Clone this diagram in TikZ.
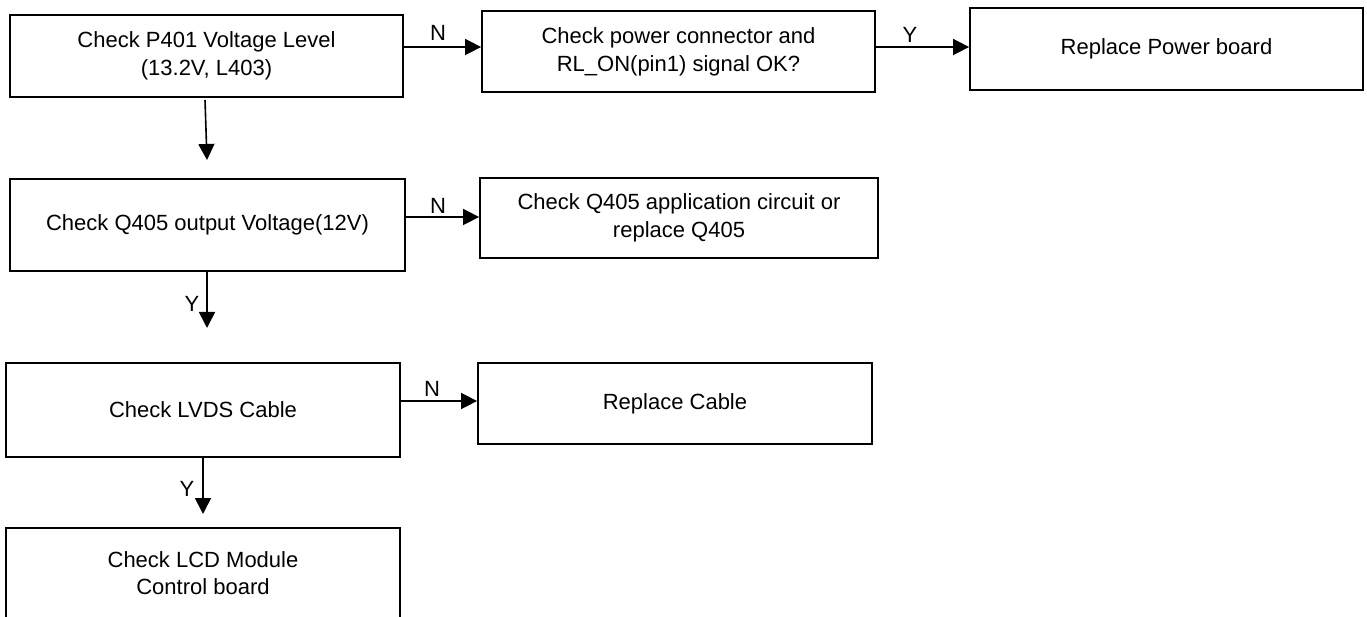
\documentclass[tikz,border=0pt]{standalone}
\usepackage{fontspec}
\setmainfont{Liberation Sans}
\usetikzlibrary{arrows.meta}
\begin{document}
\begin{tikzpicture}[x=1pt,y=-1pt,
  box/.style={draw,line width=1.8pt,inner sep=0pt,align=center,font=\fontsize{22}{28}\selectfont},
  lbl/.style={font=\fontsize{22}{26}\selectfont,inner sep=0pt},
  arr/.style={line width=1.6pt,-{Triangle[length=16pt,width=16pt]}}]
\useasboundingbox (0,0) rectangle (1367,617);
% row 1
\node[box,minimum width=393pt,minimum height=82pt] (b1) at (206.5,56) {Check P401 Voltage Level\\(13.2V, L403)};
\node[box,minimum width=393pt,minimum height=81pt] (b2) at (678.5,51.5) {Check power connector and\\RL\_ON(pin1) signal OK?};
\node[box,minimum width=393pt,minimum height=82pt] (b3) at (1166.5,49) {Replace Power board};
\draw[arr] (b1.east |- 0,47) -- (b2.west |- 0,47);
\node[lbl] (n1) at (438,33) {N};
\draw[arr] (b2.east |- 0,47) -- (b3.west |- 0,47);
\node[lbl] (y1) at (910,35) {Y};
% row 2
\coordinate (d1s) at (205,100);
\coordinate (d1e) at (207,160);
\draw[arr] (d1s) -- (d1e);
\node[box,minimum width=395pt,minimum height=92pt] (b4) at (207.5,225) {Check Q405 output Voltage(12V)};
\node[box,minimum width=398pt,minimum height=80pt] (b5) at (679,218) {Check Q405 application circuit or\\replace Q405};
\draw[arr] (b4.east |- 0,217) -- (b5.west |- 0,217);
\node[lbl] (n2) at (438,206) {N};
% row 3
\coordinate (d2e) at (207,328);
\draw[arr] (b4.south -| d2e) -- (d2e);
\node[lbl] (y2) at (192,304) {Y};
\node[box,minimum width=394pt,minimum height=94pt] (b6) at (203,410) {Check LVDS Cable};
\node[box,minimum width=394pt,minimum height=81pt] (b7) at (675,403.5) {Replace Cable};
\draw[arr] (b6.east |- 0,401) -- (b7.west |- 0,401);
\node[lbl] (n3) at (432,389) {N};
% row 4
\coordinate (d3e) at (203,514);
\draw[arr] (b6.south -| d3e) -- (d3e);
\node[lbl] (y3) at (187,489) {Y};
\node[box,minimum width=394pt,minimum height=120pt,anchor=north] (b8) at (203,527) {};
\node[font=\fontsize{22}{27}\selectfont,align=center,inner sep=0pt] (t8) at (203,573.5) {Check LCD Module\\Control board};
\end{tikzpicture}
\end{document}
